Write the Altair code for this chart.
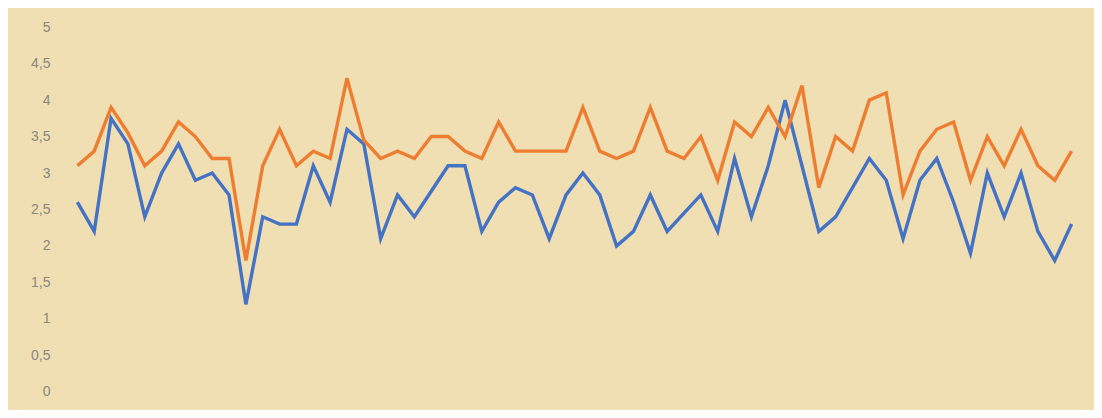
import altair as alt
import pandas as pd

blue = [2.6, 2.2, 3.75, 3.4, 2.4, 3.0, 3.4, 2.9, 3.0, 2.7,
        1.2, 2.4, 2.3, 2.3, 3.1, 2.6, 3.6, 3.4, 2.1, 2.7,
        2.4, 2.75, 3.1, 3.1, 2.2, 2.6, 2.8, 2.7, 2.1, 2.7,
        3.0, 2.7, 2.0, 2.2, 2.7, 2.2, 2.45, 2.7, 2.2, 3.2,
        2.4, 3.1, 4.0, 3.1, 2.2, 2.4, 2.8, 3.2, 2.9, 2.1,
        2.9, 3.2, 2.6, 1.9, 3.0, 2.4, 3.0, 2.2, 1.8, 2.3]
orange = [3.1, 3.3, 3.9, 3.55, 3.1, 3.3, 3.7, 3.5, 3.2, 3.2,
          1.8, 3.1, 3.6, 3.1, 3.3, 3.2, 4.3, 3.45, 3.2, 3.3,
          3.2, 3.5, 3.5, 3.3, 3.2, 3.7, 3.3, 3.3, 3.3, 3.3,
          3.9, 3.3, 3.2, 3.3, 3.9, 3.3, 3.2, 3.5, 2.9, 3.7,
          3.5, 3.9, 3.5, 4.2, 2.8, 3.5, 3.3, 4.0, 4.1, 2.7,
          3.3, 3.6, 3.7, 2.9, 3.5, 3.1, 3.6, 3.1, 2.9, 3.3]
series_names = ["Série 1", "Série 2"]
colors = ["#4472C4", "#ED7D31"]

rows = []
for name, vals in zip(series_names, [blue, orange]):
    for i, v in enumerate(vals):
        rows.append({"idx": i + 1, "value": v, "serie": name})
df = pd.DataFrame(rows)

chart = alt.Chart(df).mark_line(strokeWidth=3.4, strokeJoin="miter").encode(
    x=alt.X("idx:Q", scale=alt.Scale(domain=[0.5, 60.5], nice=False, zero=False), axis=None),
    y=alt.Y("value:Q", scale=alt.Scale(domain=[0, 5], nice=False),
            axis=alt.Axis(values=[0, 0.5, 1, 1.5, 2, 2.5, 3, 3.5, 4, 4.5, 5],
                          labelExpr="replace(format(datum.value, '~g'), '.', ',')",
                          title=None, domain=False, ticks=False, grid=False,
                          labelPadding=19, labelFontSize=14, labelColor="#8a877d",
                          labelFont="Liberation Sans")),
    color=alt.Color("serie:N", scale=alt.Scale(domain=series_names, range=colors), legend=None),
    detail="serie:N",
).properties(
    width=1012, height=365,
    autosize=alt.AutoSizeParams(type="none"),
    padding={"left": 61, "top": 19, "right": 14, "bottom": 18},
    background="#F0DFB3",
).configure_view(stroke=None, fill="#F0DFB3")

chart.save("out.html", embed_options={"renderer": "svg", "actions": False})
